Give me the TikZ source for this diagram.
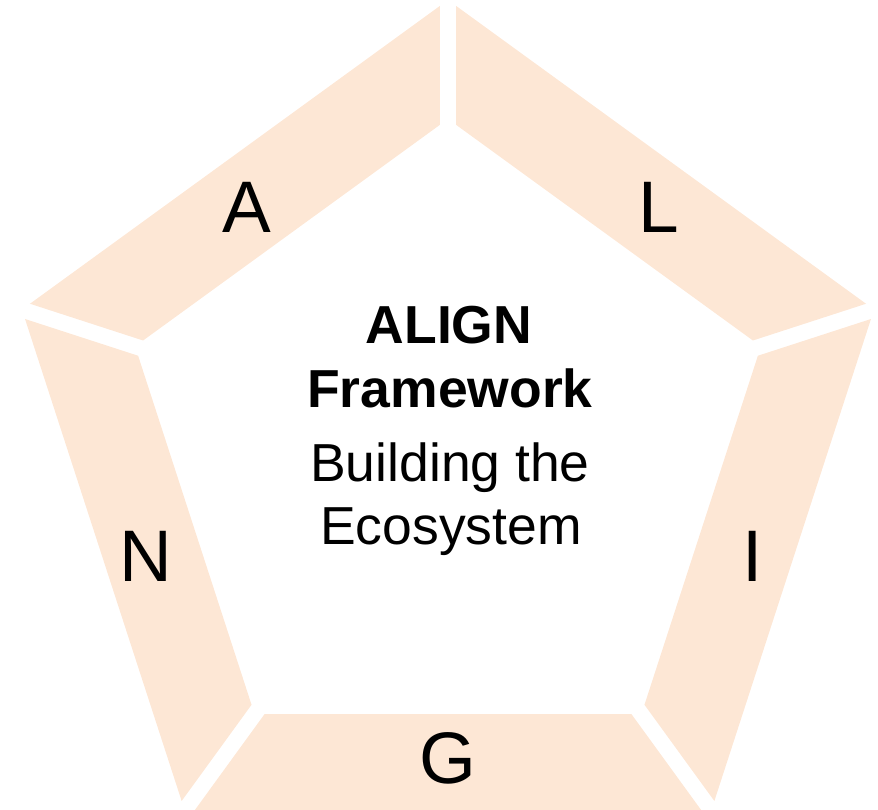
\documentclass[tikz,border=0pt]{standalone}
\usepackage{fontspec}
\setmainfont{Liberation Sans}
\definecolor{peach}{HTML}{FDE7D5}
\begin{document}
\begin{tikzpicture}[x=1pt,y=-1pt,
  seg/.style={fill=peach,draw=none},
  letter/.style={inner sep=0pt,font=\fontsize{73}{80}\selectfont},
  bold/.style={inner sep=0pt,anchor=base,font=\fontsize{53.5}{62}\selectfont\bfseries},
  reg/.style={inner sep=0pt,anchor=base,font=\fontsize{53.5}{62}\selectfont}]
\useasboundingbox (0,0) rectangle (878,810);
\coordinate (c) at (448,448);
\foreach \k in {0,1,2,3,4}{
  \fill[seg,rotate around={72*\k:(c)}]
    (448-253.4,810.4) -- (448+253.4,810.4) -- (448+183.5,714.2) -- (448-183.5,714.2) -- cycle;
}
\node[letter] (A) at (247,207) {A};
\node[letter] (L) at (659,207) {L};
\node[letter] (I) at (753,556) {I};
\node[letter] (G) at (448,758) {G};
\node[letter] (N) at (146,556) {N};
\node[bold] (t1) at (449,343) {ALIGN};
\node[bold] (t2) at (450,407) {Framework};
\node[reg] (t3) at (450,481) {Building the};
\node[reg] (t4) at (451,544) {Ecosystem};
\end{tikzpicture}
\end{document}
